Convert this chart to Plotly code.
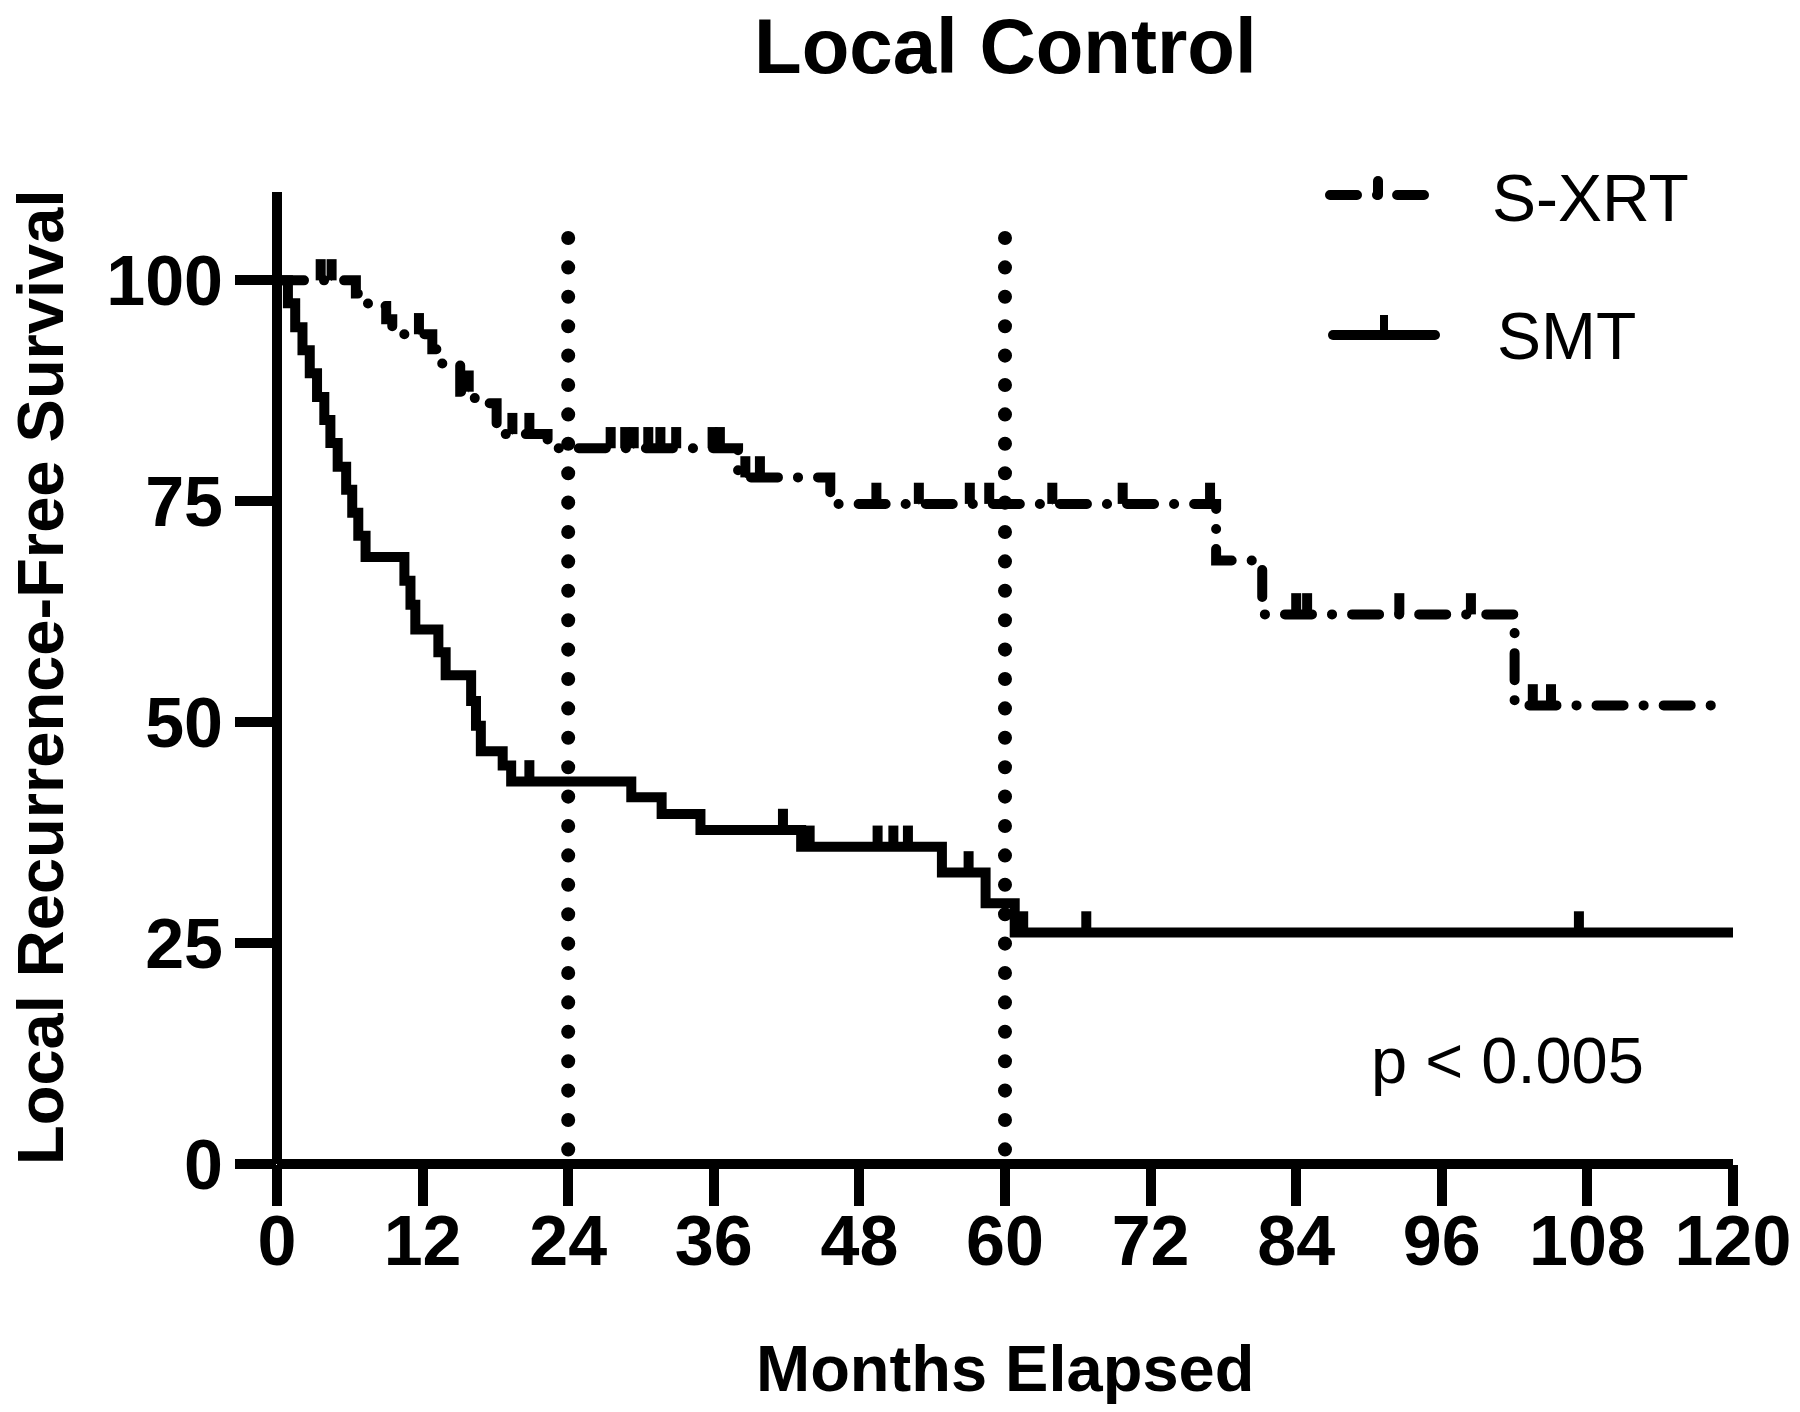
import plotly.graph_objects as go

# ---------------- data ----------------
# S-XRT Kaplan-Meier curve: event times (months) and survival (%) after each event
sxrt_event_months = [6.5, 7.5, 9.0, 9.5, 12.8, 13.6, 15.1, 16.3, 18.1, 22.3,
                     38.0, 45.6, 77.4, 81.2, 102.0]
sxrt_event_surv = [98.5, 97.1, 95.6, 93.9, 92.2, 90.6, 87.4, 86.1, 82.6, 81.0,
                   77.7, 74.7, 68.3, 62.2, 51.9]
sxrt_last_followup = 119.0
sxrt_censor_months = [3.6, 4.5, 11.7, 15.8, 19.4, 20.8, 27.5, 28.7, 29.4, 30.6,
                      31.6, 32.9, 35.9, 36.5, 38.6, 39.8, 49.4, 52.9, 57.1, 58.7,
                      63.9, 69.7, 76.9, 84.0, 84.9, 92.5, 98.4, 103.5, 105.0]

# SMT Kaplan-Meier curve
smt_event_months = [0.9, 1.5, 2.1, 2.7, 3.3, 3.9, 4.4, 5.0, 5.7, 6.2, 6.7, 7.3,
                    10.5, 11.0, 11.4, 13.3, 13.9, 16.0, 16.4, 16.8, 18.6, 19.3,
                    29.2, 31.7, 34.9, 43.2, 54.8, 58.4, 60.8]
smt_event_surv = [97.4, 94.7, 92.1, 89.5, 86.8, 84.2, 81.6, 78.9, 76.3, 73.7, 71.1, 68.7,
                  66.0, 63.3, 60.5, 57.9, 55.3, 52.4, 49.6, 46.7, 45.1, 43.3,
                  41.5, 39.6, 37.8, 35.9, 33.0, 29.5, 26.2]
smt_last_followup = 120.0
smt_censor_months = [20.8, 41.7, 43.9, 49.5, 50.8, 52.0, 57.0, 61.5, 66.7, 107.3]

landmark_months = [24, 60]
landmark_top = 104.8

x_tick_vals = [0, 12, 24, 36, 48, 60, 72, 84, 96, 108, 120]
y_tick_vals = [0, 25, 50, 75, 100]

series_names = ["S-XRT", "SMT"]
title_text = "Local Control"
x_title = "Months Elapsed"
y_title = "Local Recurrence-Free Survival"
p_text = "p < 0.005"


# ---------------- helpers ----------------
def km_path(months, surv, end):
    return [0] + list(months) + [end], [100] + list(surv) + [surv[-1]]


def surv_at(t, months, surv):
    val = 100
    for m, s in zip(months, surv):
        if m <= t:
            val = s
    return val


BOLD = dict(family="Liberation Sans, Arial, sans-serif", color="black", weight="bold")
REG = dict(family="Liberation Sans, Arial, sans-serif", color="black")
LW = 10
TICK_UP = 2.4  # censor tick height in y units
DASHDOT = "27px,20px,0.1px,20px"

fig = go.Figure()

# landmark dotted lines
for m in landmark_months:
    fig.add_trace(go.Scatter(x=[m, m], y=[landmark_top, 0], mode="lines",
                             line=dict(color="black", width=14, dash="0.1px,29.3px"),
                             hoverinfo="skip", showlegend=False))

# S-XRT curve
sx, sy = km_path(sxrt_event_months, sxrt_event_surv, sxrt_last_followup)
fig.add_trace(go.Scatter(x=sx, y=sy, mode="lines", line_shape="hv", name=series_names[0],
                         line=dict(color="black", width=LW, dash=DASHDOT),
                         hoverinfo="skip", showlegend=False))
fig.add_trace(go.Scatter(
    x=sxrt_censor_months,
    y=[surv_at(t, sxrt_event_months, sxrt_event_surv) for t in sxrt_censor_months],
    mode="markers", marker=dict(size=1, color="black"),
    error_y=dict(type="constant", value=TICK_UP, valueminus=0, symmetric=False,
                 width=0, thickness=LW, color="black"),
    hoverinfo="skip", showlegend=False))

# SMT curve
mx, my = km_path(smt_event_months, smt_event_surv, smt_last_followup)
fig.add_trace(go.Scatter(x=mx, y=my, mode="lines", line_shape="hv", name=series_names[1],
                         line=dict(color="black", width=LW),
                         hoverinfo="skip", showlegend=False))
fig.add_trace(go.Scatter(
    x=smt_censor_months,
    y=[surv_at(t, smt_event_months, smt_event_surv) for t in smt_censor_months],
    mode="markers", marker=dict(size=1, color="black"),
    error_y=dict(type="constant", value=TICK_UP, valueminus=0, symmetric=False,
                 width=0, thickness=LW, color="black"),
    hoverinfo="skip", showlegend=False))

# ---------------- layout ----------------
L, R, T, B = 277, 67, 192, 248
W, H = 1800, 1412
PW, PH = W - L - R, H - T - B


def px(xpix):
    return (xpix - L) / PW


def py(ypix):
    return (H - B - ypix) / PH


shapes = [
    # axes lines (index 0, 1)
    dict(type="line", xref="paper", yref="paper", x0=0, x1=0, y0=0, y1=1,
         line=dict(color="black", width=LW)),
    dict(type="line", xref="paper", yref="paper", x0=0, x1=1, y0=0, y1=0,
         line=dict(color="black", width=LW)),
    # legend: S-XRT sample (index 2) and its tick (3)
    dict(type="line", xref="paper", yref="paper", x0=px(1330), x1=px(1424), y0=py(195), y1=py(195),
         line=dict(color="black", width=LW, dash=DASHDOT)),
    dict(type="line", xref="paper", yref="paper", x0=px(1378), x1=px(1378), y0=py(195), y1=py(181),
         line=dict(color="black", width=LW)),
    # legend: SMT sample (4) and its tick (5)
    dict(type="line", xref="paper", yref="paper", x0=px(1333), x1=px(1435), y0=py(335), y1=py(335),
         line=dict(color="black", width=LW)),
    dict(type="line", xref="paper", yref="paper", x0=px(1384), x1=px(1384), y0=py(335), y1=py(315),
         line=dict(color="black", width=8)),
]
round_shape_idx = [2, 3, 4]

annotations = [
    dict(text=title_text, xref="paper", yref="paper", x=0.5, y=py(46), xanchor="center",
         yanchor="middle", showarrow=False, font=dict(size=78, **BOLD)),
    dict(text=x_title, xref="paper", yref="paper", x=0.5, y=py(1368), xanchor="center",
         yanchor="middle", showarrow=False, font=dict(size=65, **BOLD)),
    dict(text=y_title, xref="paper", yref="paper", x=px(40), y=0.5, xanchor="center",
         yanchor="middle", textangle=-90, showarrow=False, font=dict(size=65, **BOLD)),
    dict(text=series_names[0], xref="paper", yref="paper", x=px(1490), y=py(198), xanchor="left",
         yanchor="middle", showarrow=False, font=dict(size=66, **REG)),
    dict(text=series_names[1], xref="paper", yref="paper", x=px(1495), y=py(336), xanchor="left",
         yanchor="middle", showarrow=False, font=dict(size=66, **REG)),
    dict(text=p_text, xref="paper", yref="paper", x=px(1369), y=py(1060), xanchor="left",
         yanchor="middle", showarrow=False, font=dict(size=65, **REG)),
]

axis_common = dict(showgrid=False, zeroline=False, showline=False, ticks="outside",
                   ticklen=41, tickwidth=LW, tickcolor="black", tickfont=dict(size=70, **BOLD),
                   fixedrange=True, automargin=False)

fig.update_layout(
    width=W, height=H, margin=dict(l=L, r=R, t=T, b=B, pad=0, autoexpand=False),
    plot_bgcolor="white", paper_bgcolor="white", showlegend=False,
    xaxis=dict(range=[0, 120], tickvals=x_tick_vals, ticktext=[str(v) for v in x_tick_vals],
               ticklabelstandoff=-25, **axis_common),
    yaxis=dict(range=[0, 110], tickvals=y_tick_vals, ticktext=[str(v) for v in y_tick_vals],
               ticklabelstandoff=-2, **axis_common),
    shapes=shapes, annotations=annotations,
)

post_js = """
document.body.style.margin = '0px';
document.body.style.padding = '0px';
var gd = document.getElementById('{plot_id}');
var roundIdx = %s;
function roundCaps(){
  gd.querySelectorAll('.scatterlayer .js-line').forEach(function(p){ p.style.strokeLinecap = 'round'; });
  gd.querySelectorAll('.shapelayer path').forEach(function(p){
    var i = parseInt(p.getAttribute('data-index'));
    if(roundIdx.indexOf(i) >= 0){ p.style.strokeLinecap = 'round'; }
  });
}
roundCaps();
if(gd.on){ gd.on('plotly_afterplot', roundCaps); }
""" % str(round_shape_idx)

fig.write_html("out.html", post_script=post_js, config={"displayModeBar": False})
